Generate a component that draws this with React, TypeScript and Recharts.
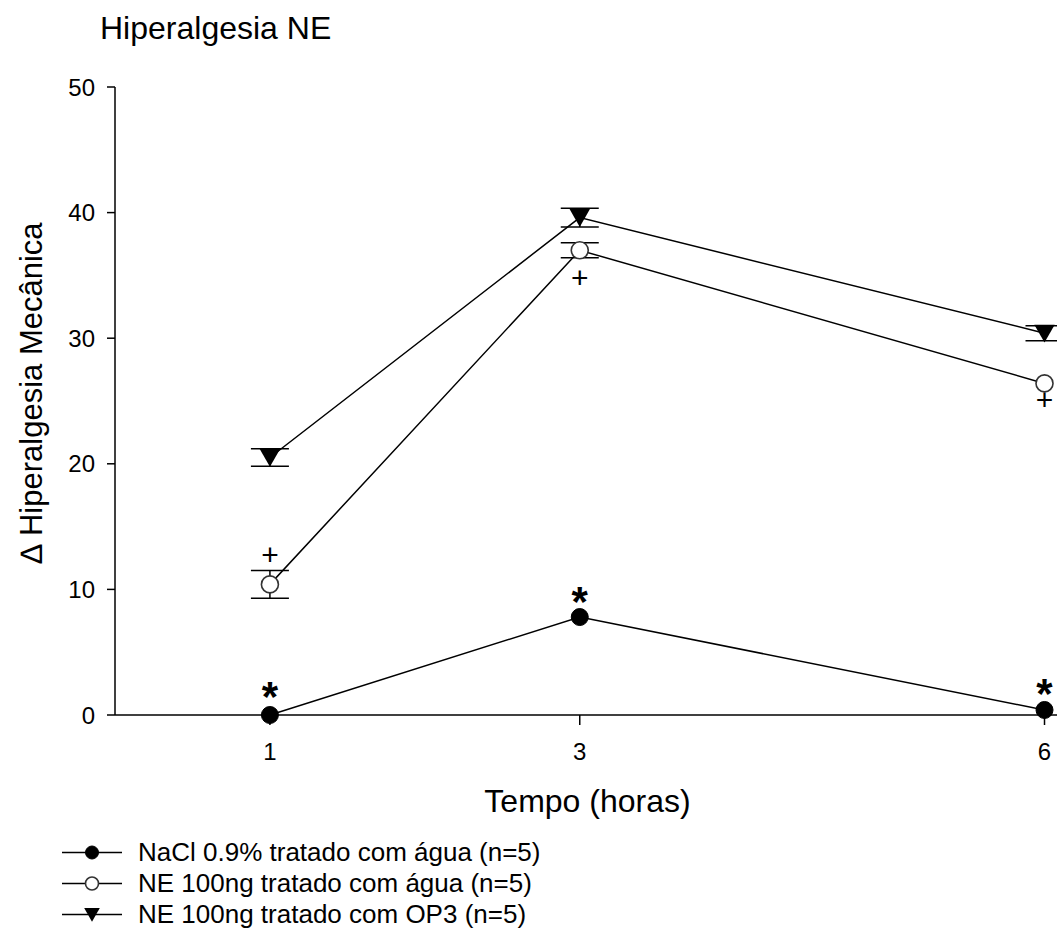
import React from "react";
import { ComposedChart, Line, XAxis, YAxis, ErrorBar } from "recharts";

const FONT = '"Liberation Sans", Arial, sans-serif';

const times = [1, 3, 6];
const xTicks = [1, 3, 6];
const yTicks = [0, 10, 20, 30, 40, 50];

const naclAgua = [0, 7.8, 0.4];
const neAgua = [10.4, 37.0, 26.4];
const neAguaErr = [1.1, 0.6, null];
const neOp3 = [20.5, 39.6, 30.4];
const neOp3Err = [0.7, 0.75, 0.6];

// significance marks, at the value where each one sits in the figure
const plusMarks = [12.7, 34.8, 25.1];
const starMarks = [2.2, 9.8, 2.5];

const legendNames = [
  "NaCl 0.9% tratado com água (n=5)",
  "NE 100ng tratado com água (n=5)",
  "NE 100ng tratado com OP3 (n=5)",
];
const legendShapes = ["filled", "open", "triangle"];

const data = times.map((t, i) => ({
  t,
  nacl: naclAgua[i],
  ne: neAgua[i],
  neErr: neAguaErr[i],
  op3: neOp3[i],
  op3Err: neOp3Err[i],
  plus: plusMarks[i],
  star: starMarks[i],
}));

function marker(shape: string, cx: number, cy: number, r: number) {
  if (shape === "filled")
    return <circle cx={cx} cy={cy} r={r} fill="#000" stroke="#000" strokeWidth={1} />;
  if (shape === "open")
    return <circle cx={cx} cy={cy} r={r} fill="#fff" stroke="#333" strokeWidth={1.6} />;
  const w = r * 1.2;
  return (
    <polygon
      points={`${cx - w},${cy - r} ${cx + w},${cy - r} ${cx},${cy + r * 1.1}`}
      fill="#000"
    />
  );
}

const dotFor = (shape: string) => (p: any) =>
  <g key={`${shape}-${p.index}`}>{marker(shape, p.cx, p.cy, 8.5)}</g>;

const plusDot = (p: any) => (
  <text key={`p-${p.index}`} x={p.cx} y={p.cy} dy={10} textAnchor="middle"
    fontFamily={FONT} fontSize={30} fill="#000">+</text>
);

const starDot = (p: any) => (
  <text key={`s-${p.index}`} x={p.cx} y={p.cy} dy={24} textAnchor="middle"
    fontFamily={FONT} fontSize={42} fontWeight="bold" fill="#000">*</text>
);

const YLabel = () => (
  <text x={31} y={393} transform="rotate(-90, 31, 393)" textAnchor="middle"
    dominantBaseline="central" fontFamily={FONT} fontSize={31} fill="#000">
    ∆ Hiperalgesia Mecânica
  </text>
);

export default function App() {
  const axisStroke = { stroke: "#000", strokeWidth: 1.5 };
  const tick = { fill: "#000", fontSize: 24, fontFamily: FONT };
  return (
    <div style={{ position: "absolute", left: 0, top: 0, width: 1057, height: 928,
      overflow: "hidden", background: "#fff" }}>
      <div style={{ position: "absolute", left: 100, top: 10, fontFamily: FONT,
        fontSize: 32, color: "#000", whiteSpace: "nowrap" }}>
        Hiperalgesia NE
      </div>
      <ComposedChart width={1080} height={928} data={data}
        margin={{ top: 87, right: 20, bottom: 0, left: 0 }}>
        <XAxis type="number" dataKey="t" domain={[0, 6.1]} ticks={xTicks}
          height={213} tickSize={10} tickMargin={18} interval={0}
          axisLine={axisStroke} tickLine={axisStroke} tick={tick}
          label={{ value: "Tempo (horas)", position: "insideTop", offset: 74,
            fontSize: 32, fontFamily: FONT, fill: "#000" }} />
        <YAxis type="number" domain={[0, 50]} ticks={yTicks} width={115}
          tickSize={8} tickMargin={12} interval={0}
          axisLine={axisStroke} tickLine={axisStroke} tick={tick}
          label={<YLabel />} />
        <Line dataKey="op3" stroke="#000" strokeWidth={1.5} isAnimationActive={false}
          dot={dotFor("triangle")} activeDot={false}>
          <ErrorBar dataKey="op3Err" width={19} stroke="#000" strokeWidth={1.5} />
        </Line>
        <Line dataKey="ne" stroke="#000" strokeWidth={1.5} isAnimationActive={false}
          dot={dotFor("open")} activeDot={false}>
          <ErrorBar dataKey="neErr" width={19} stroke="#000" strokeWidth={1.5} />
        </Line>
        <Line dataKey="nacl" stroke="#000" strokeWidth={1.5} isAnimationActive={false}
          dot={dotFor("filled")} activeDot={false} />
        <Line dataKey="plus" stroke="none" isAnimationActive={false}
          dot={plusDot} activeDot={false} />
        <Line dataKey="star" stroke="none" isAnimationActive={false}
          dot={starDot} activeDot={false} />
      </ComposedChart>
      <div style={{ position: "absolute", left: 62, top: 837, fontFamily: FONT,
        fontSize: 26, color: "#000" }}>
        {legendNames.map((name, i) => (
          <div key={name} style={{ display: "flex", alignItems: "center", height: 31 }}>
            <svg width={60} height={31} style={{ marginRight: 16, flexShrink: 0 }}>
              <line x1={0} x2={60} y1={15.5} y2={15.5} stroke="#000" strokeWidth={1.5} />
              {marker(legendShapes[i], 30, 15.5, 6.5)}
            </svg>
            <span style={{ whiteSpace: "nowrap", lineHeight: "31px" }}>{name}</span>
          </div>
        ))}
      </div>
    </div>
  );
}
